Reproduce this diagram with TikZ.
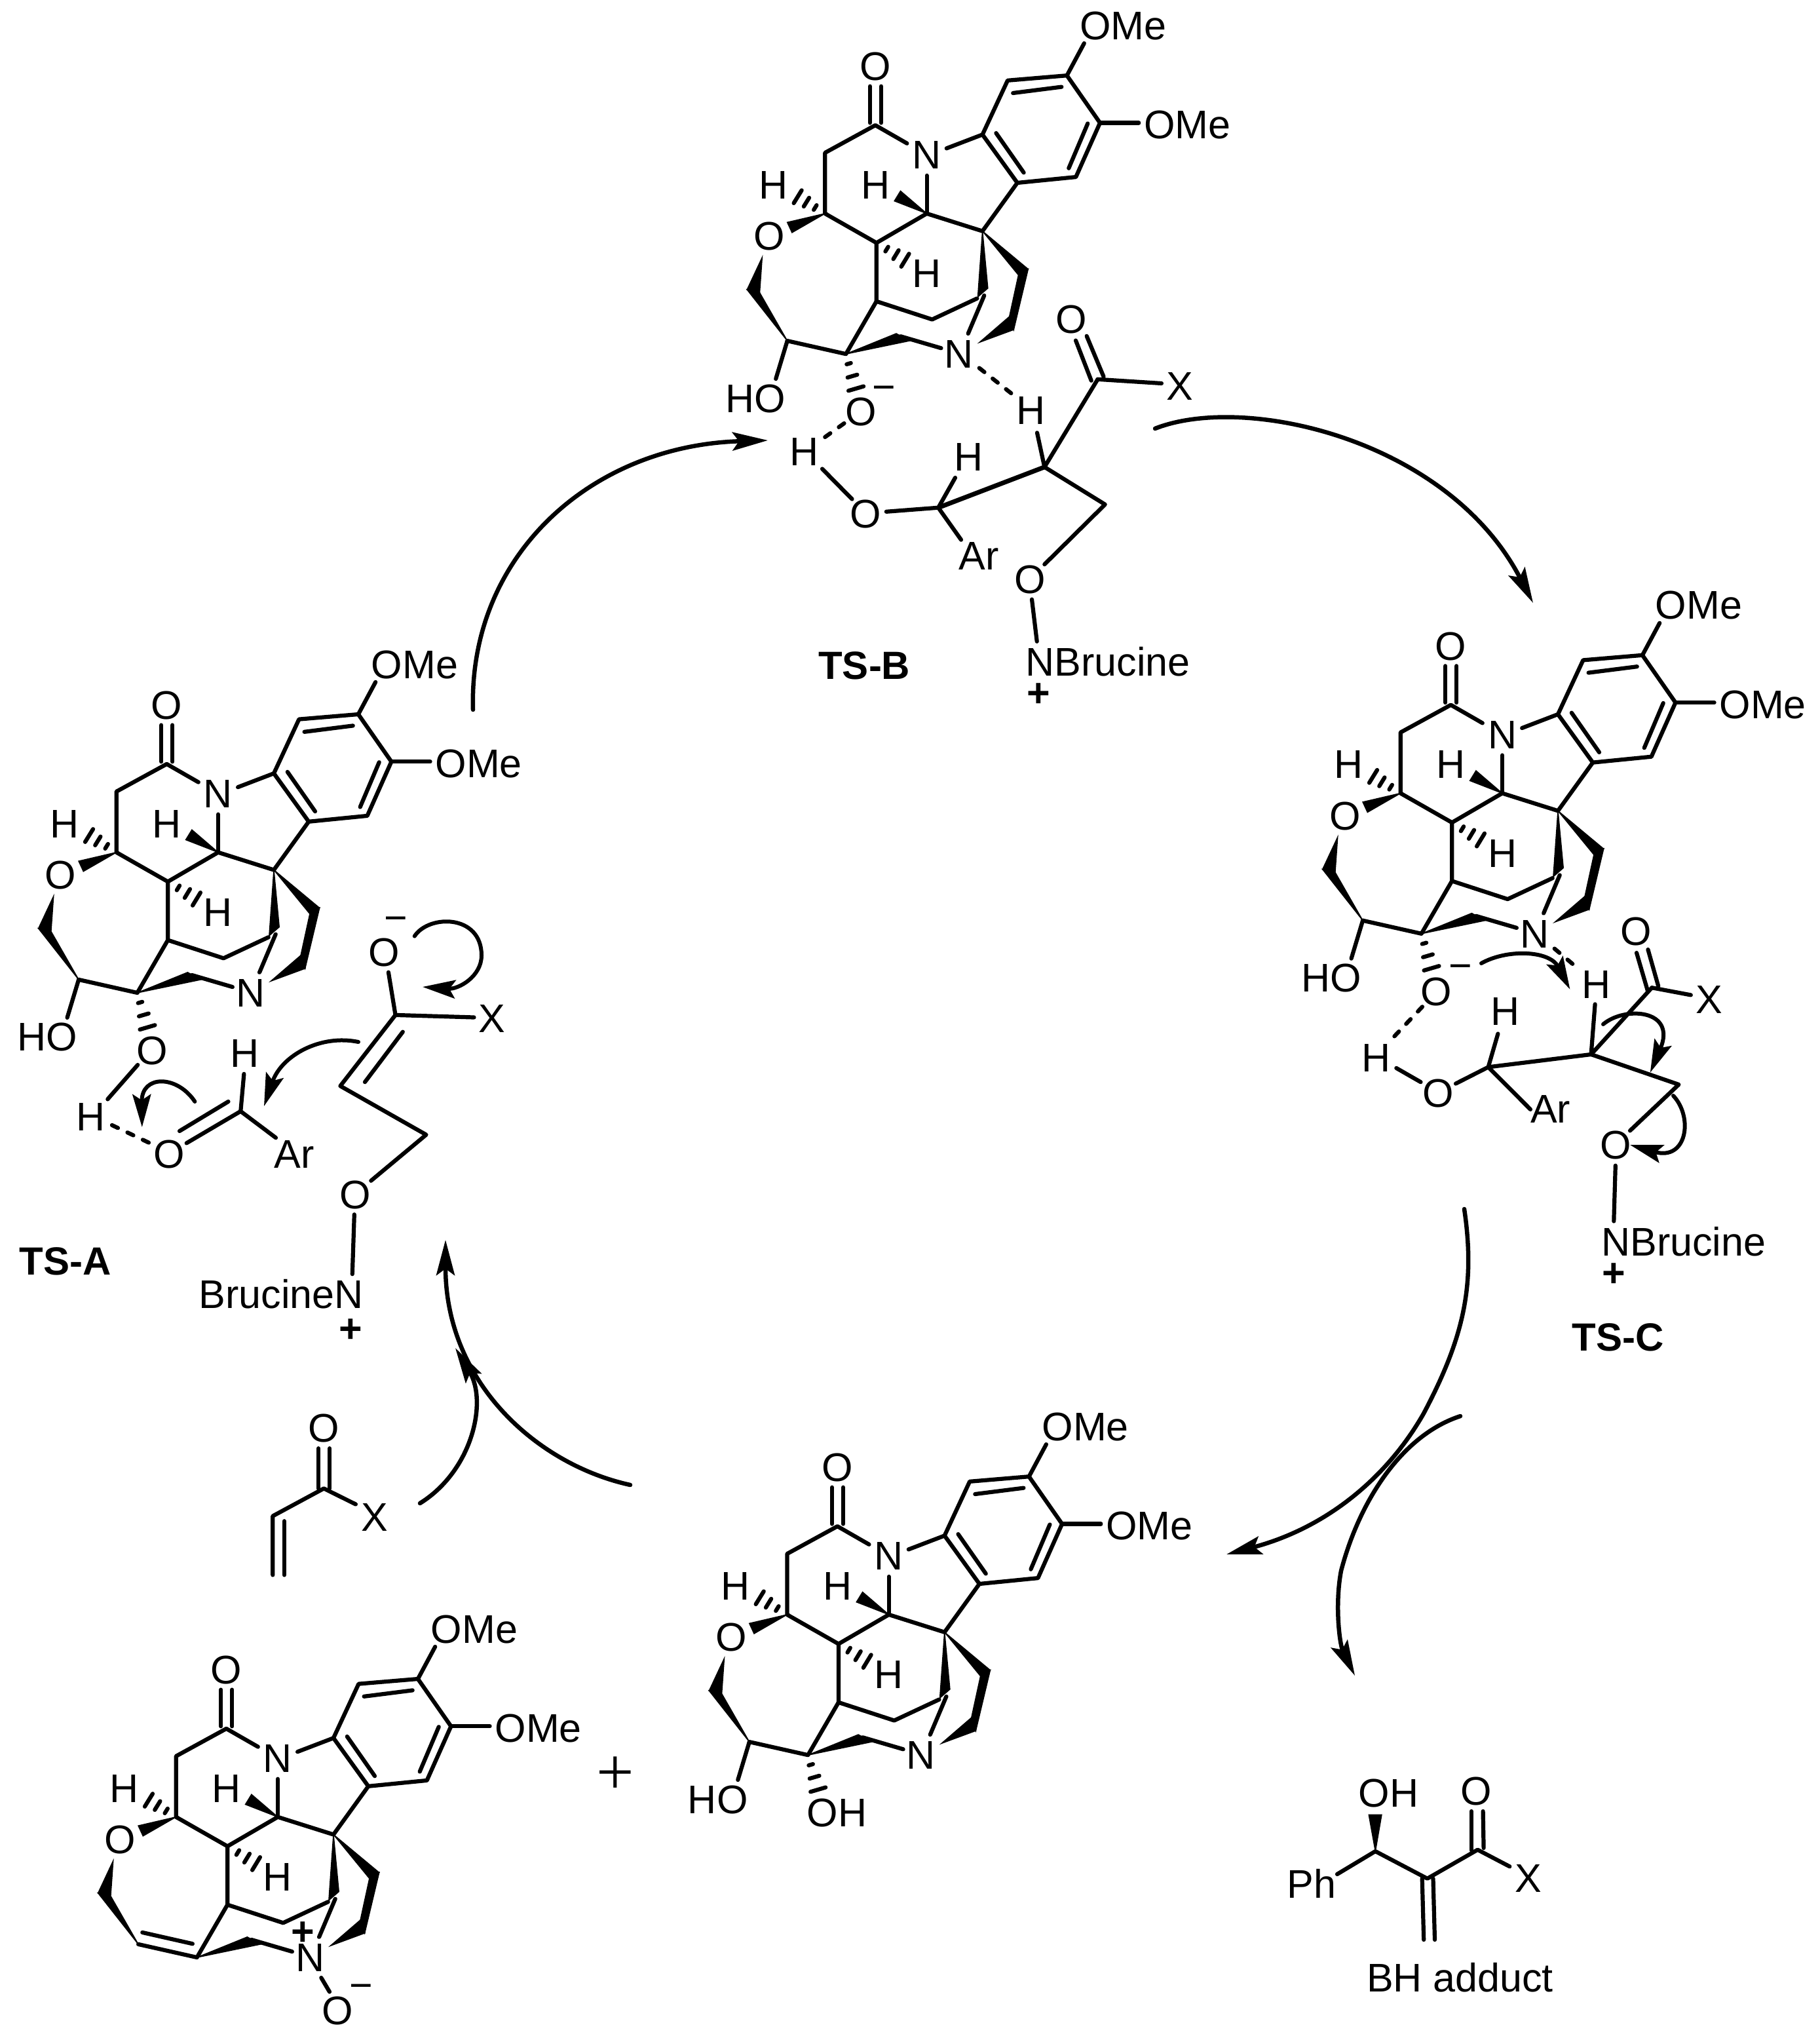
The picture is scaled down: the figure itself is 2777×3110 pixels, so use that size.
\documentclass[tikz,border=0pt]{standalone}
\usepackage{fontspec}
\setmainfont{Liberation Sans}
\newfontfamily\plusfont{Liberation Serif}
\usetikzlibrary{arrows.meta,calc}
\tikzset{
  bond/.style={line width=6.2pt,line cap=round,line join=round,draw=black},
  hbond/.style={bond,dash pattern=on 10pt off 16pt},
  wedgeb/.style={fill=black,draw=black,line width=1.5pt,line join=miter},
  lab/.style={font=\fontsize{61}{61}\selectfont,inner sep=0pt,text=black},
  tslab/.style={font=\fontsize{60}{60}\selectfont\bfseries,inner sep=0pt,text=black},
  chgm/.style={lab,anchor=base,yshift=-20pt},
  chgp/.style={font=\fontsize{61}{61}\selectfont\bfseries,inner sep=0pt,anchor=base,yshift=-21pt},
  bigarrow/.style={line width=6.5pt,line cap=round,draw=black,-{Stealth[length=54pt,width=28pt,inset=10pt]}},
  pusharrow/.style={line width=6pt,line cap=round,draw=black,-{Stealth[length=50pt,width=28pt,inset=9pt]}},
}
\newcommand{\hashb}[4]{%
  \foreach \t in {#3}{%
    \draw[bond] ($(#1)!\t!(#2)!{#4*\t*1pt}!90:(#1)$) -- ($(#1)!\t!(#2)!{#4*\t*1pt}!-90:(#1)$);
  }%
}
% the common polycyclic core; #1 name prefix, #2 position of the quaternary carbon, #3 extras
\newcommand{\brucine}[3]{%
\begin{scope}[shift={#2},name prefix=#1-]
  \coordinate (Q) at (0,0);
  \coordinate (Ca) at (-163.5,-161.6);
  \coordinate (C2) at (-240.3,-119.6);
  \coordinate (Cb) at (-240.3,-26.8);
  \coordinate (Cc) at (-85,-26.8);
  \coordinate (Cd) at (-161.8,17.9);
  \coordinate (Ce) at (-161.8,107.1);
  \coordinate (Cf) at (-76.8,134.8);
  \coordinate (Cg) at (-8.2,102.7);
  \coordinate (Cg2) at (2.7,98.2);
  \coordinate (Ch) at (-208.4,187.5);
  \coordinate (Ci) at (-297.9,167.4);
  \coordinate (a1) at (0,-147.3);
  \coordinate (a2) at (53.2,-73.7);
  \coordinate (a3) at (142.6,-82.6);
  \coordinate (a4) at (179.4,-165.2);
  \coordinate (a5) at (128.9,-237.5);
  \coordinate (a6) at (38.4,-229.9);
  \coordinate (m1) at (155.2,-286.6);
  \coordinate (m2) at (238.6,-165.2);
  \coordinate (Na) at (-115.2,-133.9);
  \coordinate (Nb) at (-54.9,-126.3);
  \coordinate (Nc) at (-85,-84.8);
  \coordinate (Nd) at (-21.9,156.3);
  \coordinate (Ne) at (-63.1,178.6);
  \coordinate (W3s) at (-125,160.5);
  \coordinate (Oa1) at (-171.7,-221);
  \coordinate (Oa2) at (-171.7,-165.2);
  \coordinate (Ob1) at (-154.7,-221);
  \coordinate (Ob2) at (-154.7,-165.2);
  \coordinate (H1e) at (-282,-52.5);
  \coordinate (H3e) at (-118,44.4);
  \node[lab] (OK) at (-163.5,-250.9) {O};
  \node[lab] (N1) at (-85,-116) {N};
  \node[lab] (N2) at (-35.7,188.2) {N};
  \node[lab] (OR) at (-325.3,8) {O};
  \node[lab] (H1) at (-319.2,-70.5) {H};
  \node[lab] (H2) at (-163.5,-70.5) {H};
  \node[lab] (H3) at (-85,64.7) {H};
  \node[lab] (OMe1) at (215,-313.4) {OMe};
  \node[lab] (OMe2) at (312.7,-162) {OMe};
  \draw[bond] (a1)--(a2)--(a3)--(a4)--(a5)--(a6)--cycle;
  \draw[bond] (46.6,-210.7)--(120.7,-220.1);
  \draw[bond] (160.7,-164.3)--(131.7,-96);
  \draw[bond] (20.8,-149.6)--(63,-89.3);
  \draw[bond] (a5)--(m1);
  \draw[bond] (a4)--(m2);
  \draw[bond] (a2)--(Q)--(Cc)--(Cd)--(Cb)--(C2)--(Ca)--(Na);
  \draw[bond] (Nb)--(a1);
  \draw[bond] (Nc)--(Cc);
  \draw[bond] (Oa1)--(Oa2);
  \draw[bond] (Ob1)--(Ob2);
  \draw[bond] (Cd)--(Ce)--(Cf)--(Cg);
  \draw[bond] (Ce)--(Ch)--(Ci);
  \draw[bond] (Cg2)--(Nd);
  \draw[bond] (W3s)--(Ne);
  \fill[wedgeb] (Q)--(-7.1,100.4)--(8.2,87.1)--cycle;
  \fill[wedgeb] (Q)--(69.7,58)--(54.9,67)--cycle;
  \fill[wedgeb] (69.7,58)--(54.9,67)--(41.1,130.4)--(47.7,150.4)--cycle;
  \fill[wedgeb] (47.7,150.4)--(41.1,130.4)--(-4.4,169.6)--cycle;
  \fill[wedgeb] (Ch)--(-131.6,156.3)--(-111.4,167.4)--cycle;
  \fill[wedgeb] (Ci)--(-359.3,89.3)--(-340.1,93.8)--cycle;
  \fill[wedgeb] (-359.3,89.3)--(-340.1,93.8)--(-336.3,40.2)--cycle;
  \fill[wedgeb] (Cb)--(-297.9,-13.4)--(-290.7,2.2)--cycle;
  \fill[wedgeb] (Cc)--(-125.1,-61.2)--(-134.4,-46)--cycle;
  \hashb{Cb}{H1e}{.36,.68,1}{11.5}
  \hashb{Cd}{H3e}{.36,.68,1}{11.5}
  #3
\end{scope}}
% the diol part: #1 text of the lower oxygen, #2 its x position
\newcommand{\diol}[2]{%
  \coordinate (Hoe) at (-315.4,225.4);
  \coordinate (HsE) at (-193,240.2);
  \node[lab] (HO) at (-346,255.4) {HO};
  \node[lab] (O3) at (#2,275.7) {#1};
  \draw[bond] (Ci)--(Hoe);
  \hashb{Ch}{HsE}{.28,.64,1}{12}
}
\begin{document}
\begin{tikzpicture}[x=1pt,y=-1pt]
\useasboundingbox (0,0) rectangle (2777,3110);
\fill[white] (0,0) rectangle (2777,3110);

% ---------- core structures
\brucine{A}{(418,1327.5)}{\diol{O}{-186}}
\brucine{B}{(1499.6,352.7)}{\diol{O}{-185}}
\brucine{C}{(2378,1237.3)}{\diol{O}{-185.7}}
\brucine{D}{(1441.7,2490.7)}{\diol{OH}{-164.2}}
\brucine{E}{(509,2799.5)}{%
  \draw[bond] (-291.7,149.4)--(-215.1,166.7);
  \node[chgp] (Ep) at (-47,147.6) {+};
  \node[lab] (EO) at (5.8,268.5) {O};
  \node[chgm] (Em) at (42.5,230.5) {−};
  \coordinate (EN1) at (-18.7,218.5);
  \coordinate (EN2) at (-6,240);
  \draw[bond] (EN1)--(EN2);
}

% ---------- TS-A
\node[lab] (AH1) at (138.8,1704) {H};
\node[lab] (AO2) at (258.2,1761.4) {O};
\node[lab] (AH2) at (374,1607.6) {H};
\node[lab] (AAr) at (449,1761.4) {Ar};
\node[lab] (AO3) at (586.7,1453) {O};
\node[chgm] (Am) at (604.6,1401) {−};
\node[lab] (AX) at (751,1554.8) {X};
\node[lab] (AO4) at (541.8,1823.4) {O};
\node[lab] (ANB) at (429.4,1975) {BrucineN};
\node[chgp] (Ap) at (535.6,2027) {+};
\node[tslab] (TSA) at (99.5,1924.4) {TS-A};
\coordinate (Aa1) at (210.2,1625);
\coordinate (Aa2) at (164.3,1677.4);
\coordinate (Ab1) at (171,1717);
\coordinate (Ab2) at (232,1746);
\coordinate (Ac0) at (284.7,1744.4);
\coordinate (Ac1) at (367.3,1695.8);
\coordinate (Ad1) at (274,1726);
\coordinate (Ad2) at (348.5,1681);
\coordinate (Ae1) at (372.4,1638.8);
\coordinate (Ae2) at (421,1736.2);
\coordinate (Af1) at (592.9,1483.7);
\coordinate (Af2) at (603.6,1548.9);
\coordinate (Af3) at (723.5,1552.5);
\coordinate (Af4) at (519.4,1657.2);
\coordinate (Af5) at (650.5,1731.6);
\coordinate (Af6) at (566.3,1801.8);
\coordinate (Ag1) at (614.8,1574.6);
\coordinate (Ag2) at (557,1651.2);
\coordinate (Ah1) at (540.8,1853.3);
\coordinate (Ah2) at (537.8,1944.2);
\draw[bond] (Aa1)--(Aa2);
\draw[hbond] (Ab1)--(Ab2);
\draw[bond] (Ac0)--(Ac1);
\draw[bond] (Ad1)--(Ad2);
\draw[bond] (Ae1)--(Ac1)--(Ae2);
\draw[bond] (Af1)--(Af2)--(Af3);
\draw[bond] (Af2)--(Af4)--(Af5)--(Af6);
\draw[bond] (Ag1)--(Ag2);
\draw[bond] (Ah1)--(Ah2);
\coordinate (Ap1s) at (297.4,1681);
\coordinate (Ap1e) at (216.8,1720);
\draw[pusharrow] (Ap1s) .. controls (270,1640) and (216,1640) .. (Ap1e);
\coordinate (Ap2s) at (547,1590);
\coordinate (Ap2e) at (403,1688);
\draw[pusharrow] (Ap2s) .. controls (490,1578) and (430,1610) .. (Ap2e);
\coordinate (Ap3s) at (632.7,1428.6);
\coordinate (Ap3e) at (645,1506);
\draw[pusharrow] (Ap3s) .. controls (655,1395) and (735,1395) .. (735,1458) .. controls (735,1490) and (700,1510) .. (Ap3e);

% ---------- TS-B
\node[chgm] (Bm) at (1349.6,591) {−};
\node[lab] (BH1) at (1227.8,689.8) {H};
\node[lab] (BO2) at (1321,784) {O};
\node[lab] (BH2) at (1478.2,698) {H};
\node[lab] (BAr) at (1493.8,848.2) {Ar};
\node[lab] (BH3) at (1573.8,627) {H};
\node[lab] (BO3) at (1635.4,487.8) {O};
\node[lab] (BX) at (1800.5,589.8) {X};
\node[lab] (BO4) at (1572,884) {O};
\node[lab] (BNB) at (1691,1009.4) {NBrucine};
\node[chgp] (Bp) at (1585.4,1057) {+};
\node[tslab] (TSB) at (1319.3,1015.5) {TS-B};
\coordinate (Ba1) at (1288.5,646);
\coordinate (Ba2) at (1255.9,669.4);
\coordinate (Bb1) at (1255,715.5);
\coordinate (Bb2) at (1300.5,761.6);
\coordinate (Bc1) at (1352.8,780.8);
\coordinate (Bc2) at (1432.2,774.7);
\coordinate (Bc3) at (1458,729);
\coordinate (Bc4) at (1467,823.7);
\coordinate (Bd) at (1594.3,712.7);
\coordinate (Bd1) at (1583,660.4);
\coordinate (Be1) at (1494.7,561.6);
\coordinate (Be2) at (1548.3,604);
\coordinate (Bf) at (1675.5,578.8);
\coordinate (Bf1) at (1642,519.6);
\coordinate (Bf2) at (1665.7,580.8);
\coordinate (Bf3) at (1658.6,512.7);
\coordinate (Bf4) at (1684.5,574.7);
\coordinate (Bf5) at (1772.9,585);
\coordinate (Bg) at (1686.7,769.8);
\coordinate (Bg1) at (1594.3,861.2);
\coordinate (Bh1) at (1575,914.7);
\coordinate (Bh2) at (1582.7,978.8);
\draw[hbond] (Ba1)--(Ba2);
\draw[bond] (Bb1)--(Bb2);
\draw[bond] (Bc1)--(Bc2)--(Bc3);
\draw[bond] (Bc2)--(Bc4);
\draw[bond,line width=7pt] (Bc2)--(Bd);
\draw[bond] (Bd1)--(Bd)--(Bf);
\draw[hbond] (Be1)--(Be2);
\draw[bond] (Bf1)--(Bf2);
\draw[bond] (Bf3)--(Bf4);
\draw[bond] (Bf)--(Bf5);
\draw[bond] (Bd)--(Bg)--(Bg1);
\draw[bond] (Bh1)--(Bh2);

% ---------- TS-C
\node[chgm] (Cm) at (2229,1474.8) {−};
\node[lab] (CH1) at (2100.6,1614.8) {H};
\node[lab] (CO2) at (2194.7,1668.2) {O};
\node[lab] (CH2) at (2297.3,1543.6) {H};
\node[lab] (CAr) at (2366.7,1692.4) {Ar};
\node[lab] (CH3) at (2436,1502.4) {H};
\node[lab] (CO3) at (2497,1421) {O};
\node[lab] (CX) at (2608.5,1525.7) {X};
\node[lab] (CO4) at (2465.8,1747.2) {O};
\node[lab] (CNB) at (2569.9,1895) {NBrucine};
\node[chgp] (Cp) at (2463.3,1942.5) {+};
\node[tslab] (TSC) at (2469.8,2040.4) {TS-C};
\coordinate (Ca1) at (2171,1536.3);
\coordinate (Ca2) at (2123,1587);
\coordinate (Cb1) at (2131.3,1629.9);
\coordinate (Cb2) at (2168.5,1651.2);
\coordinate (Cc1) at (2222,1653.6);
\coordinate (Cc2) at (2271.6,1628.4);
\coordinate (Cc3) at (2286.4,1577.5);
\coordinate (Cc4) at (2336,1692.9);
\coordinate (Cd) at (2428.6,1609);
\coordinate (Cd1) at (2434.6,1532.4);
\coordinate (Ce1) at (2372.7,1447.6);
\coordinate (Ce2) at (2408.8,1478.1);
\coordinate (Cf) at (2521.3,1507.2);
\coordinate (Cf1) at (2498,1454);
\coordinate (Cf2) at (2515.4,1513.5);
\coordinate (Cf3) at (2515.4,1449);
\coordinate (Cf4) at (2531.2,1504.8);
\coordinate (Cf5) at (2580.8,1518.4);
\coordinate (Cg) at (2562.4,1655);
\coordinate (Cg1) at (2488,1725.4);
\coordinate (Ch1) at (2465.8,1778.7);
\coordinate (Ch2) at (2463.3,1863.5);
\draw[hbond] (Ca1)--(Ca2);
\draw[bond] (Cb1)--(Cb2);
\draw[bond] (Cc1)--(Cc2)--(Cc3);
\draw[bond] (Cc2)--(Cc4);
\draw[bond] (Cc2)--(Cd);
\draw[bond] (Cd1)--(Cd)--(Cf);
\draw[hbond] (Ce1)--(Ce2);
\draw[bond] (Cf1)--(Cf2);
\draw[bond] (Cf3)--(Cf4);
\draw[bond] (Cf)--(Cf5);
\draw[bond] (Cd)--(Cg)--(Cg1);
\draw[bond] (Ch1)--(Ch2);
\coordinate (Cp1s) at (2261,1470);
\coordinate (Cp1e) at (2396.4,1509.7);
\draw[pusharrow] (Cp1s) .. controls (2300,1448) and (2365,1450) .. (Cp1e);
\coordinate (Cp2s) at (2447,1563);
\coordinate (Cp2e) at (2518.8,1636.7);
\draw[pusharrow] (Cp2s) .. controls (2480,1535) and (2560,1540) .. (Cp2e);
\coordinate (Cp3s) at (2554,1672);
\coordinate (Cp3e) at (2488,1747);
\draw[pusharrow] (Cp3s) .. controls (2585,1705) and (2575,1772) .. (Cp3e);

% ---------- acrylate
\node[lab] (AcO) at (494.3,2179.6) {O};
\node[lab] (AcX) at (571.4,2315.4) {X};
\coordinate (Ac1) at (494.3,2271.4);
\coordinate (Ac2) at (542.9,2295.5);
\coordinate (Ac3) at (416.3,2313.5);
\coordinate (Ac4) at (416.3,2403.4);
\coordinate (Ac5) at (433.9,2321.2);
\coordinate (Ac6) at (433.9,2403.4);
\coordinate (Ac7) at (486.1,2210.2);
\coordinate (Ac8) at (486.1,2271.4);
\coordinate (Ac9) at (503.3,2210.2);
\coordinate (Ac10) at (503.3,2271.4);
\draw[bond] (Ac2)--(Ac1)--(Ac3)--(Ac4);
\draw[bond] (Ac5)--(Ac6);
\draw[bond] (Ac7)--(Ac8);
\draw[bond] (Ac9)--(Ac10);

% ---------- BH adduct
\node[lab] (BHOH) at (2119.6,2736.7) {OH};
\node[lab] (BHO) at (2252.9,2733.3) {O};
\node[lab] (BHPh) at (2001.8,2874) {Ph};
\node[lab] (BHX) at (2333,2866.7) {X};
\node[lab] (BHt) at (2228.6,3017.7) {BH adduct};
\coordinate (Ph1) at (2041,2860);
\coordinate (Ph2) at (2099.3,2825);
\coordinate (Ph3) at (2178.6,2866.7);
\coordinate (Ph4) at (2255.4,2822.7);
\coordinate (Ph5) at (2304.3,2848.3);
\draw[bond] (Ph1)--(Ph2)--(Ph3)--(Ph4)--(Ph5);
\fill[wedgeb] (Ph2)--(2089.3,2769.3)--(2108.9,2769.3)--cycle;
\draw[bond] (2245.7,2764)--(2245.7,2823.3);
\draw[bond] (2263.6,2764)--(2264.6,2820);
\draw[bond] (2170.7,2866.7)--(2173.2,2960);
\draw[bond] (2187.5,2866.7)--(2190,2960);

% ---------- plus sign
\node[lab,font=\plusfont\fontsize{102}{102}\selectfont] (plus) at (939,2710) {+};

% ---------- cycle arrows
\coordinate (r1s) at (722,1083);
\coordinate (r1e) at (1172,672);
\draw[bigarrow] (r1s) .. controls (715,850) and (900,680) .. (r1e);
\coordinate (r2s) at (1763,654);
\coordinate (r2e) at (2340,920);
\draw[bigarrow] (r2s) .. controls (1900,600) and (2210,670) .. (r2e);
\coordinate (r3s) at (2235,1845);
\coordinate (r3m) at (2173,2157);
\coordinate (r3e) at (1872,2372);
\draw[bigarrow] (r3s) .. controls (2252,1960) and (2235,2040) .. (r3m) .. controls (2120,2250) and (2030,2330) .. (r3e);
\coordinate (r4s) at (2229,2161);
\coordinate (r4m) at (2047,2397);
\coordinate (r4e) at (2068,2557);
\draw[bigarrow] (r4s) .. controls (2140,2190) and (2075,2290) .. (r4m) .. controls (2037,2450) and (2045,2510) .. (r4e);
\coordinate (r5s) at (962,2266);
\coordinate (r5e) at (680,1892);
\draw[bigarrow] (r5s) .. controls (820,2235) and (680,2110) .. (r5e);
\coordinate (r6s) at (641,2294);
\coordinate (r6e) at (695,2057);
\draw[bigarrow] (r6s) .. controls (720,2245) and (745,2140) .. (r6e);
\end{tikzpicture}
\end{document}
